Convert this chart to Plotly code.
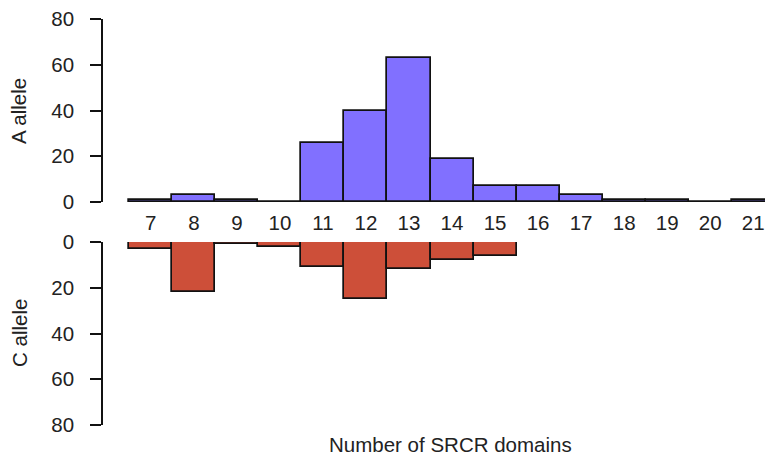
import plotly.graph_objects as go
from plotly.subplots import make_subplots

domains = [7, 8, 9, 10, 11, 12, 13, 14, 15, 16, 17, 18, 19, 20, 21]
a_allele = [1, 3, 1, 0, 26, 40, 63, 19, 7, 7, 3, 1, 1, 0, 1]
c_domains = [7, 8, 9, 10, 11, 12, 13, 14, 15]
c_allele = [3, 22, 1, 2, 11, 25, 12, 8, 6]
y_ticks = [0, 20, 40, 60, 80]

W, H = 765, 456
L, R = 103, 0
T = 19
B = H - 425
px_per_unit = 43.03
x0 = 6.5 - (129.3 - 103) / px_per_unit
pw = W - L - R
x_end = x0 + pw / px_per_unit
ph = H - T - B
top_lo = (425 - 202) / ph
bot_hi = (425 - 242) / ph

FONT = "Liberation Sans, Arial, sans-serif"
TXT = "#222222"
FS = 20.5

fig = make_subplots(rows=2, cols=1, shared_xaxes=False, vertical_spacing=0)

fig.add_trace(go.Bar(x=domains, y=a_allele, width=1,
                     marker=dict(color="#8170FF", line=dict(color="#111111", width=1.7)),
                     showlegend=False), row=1, col=1)
fig.add_trace(go.Bar(x=c_domains, y=c_allele, width=1,
                     marker=dict(color="#CD4F39", line=dict(color="#111111", width=1.7)),
                     showlegend=False), row=2, col=1)

yax = dict(range=[0, 80], tickvals=y_ticks,
           showgrid=False, zeroline=False, showline=True,
           linecolor="#111111", linewidth=1.7, ticks="outside",
           ticklen=11, tickwidth=1.7, tickcolor="#111111",
           tickfont=dict(size=FS, color=TXT, family=FONT),
           ticklabelstandoff=12, ticklabeloverflow="allow")

fig.update_xaxes(range=[x0, x_end], showgrid=False, zeroline=False, showline=False)
fig.update_layout(
    xaxis=dict(domain=[0, 1], tickmode="array", tickvals=domains,
               ticktext=[str(d) for d in domains], ticks="",
               tickfont=dict(size=FS, color=TXT, family=FONT),
               ticklabelstandoff=6, ticklabeloverflow="allow"),
    xaxis2=dict(domain=[0, 1], showticklabels=False, ticks=""),
    yaxis=dict(yax, domain=[top_lo, 1]),
    yaxis2=dict(yax, domain=[0, bot_hi], range=[80, 0]),
    width=W, height=H,
    margin=dict(l=L, r=R, t=T, b=B),
    plot_bgcolor="white", paper_bgcolor="white",
    bargap=0,
    font=dict(family=FONT, color=TXT),
)

def px_x(page_x):
    return (page_x - L) / pw

def px_y(page_y):
    return (H - B - page_y) / ph

fig.add_annotation(text="Number of SRCR domains", xref="paper", yref="paper",
                   x=px_x(451), y=px_y(444),
                   xanchor="center", yanchor="middle", showarrow=False,
                   font=dict(size=FS, color=TXT, family=FONT))
fig.add_annotation(text="A allele", xref="paper", yref="paper",
                   x=px_x(19), y=px_y(111), textangle=-90,
                   xanchor="center", yanchor="middle", showarrow=False,
                   font=dict(size=FS, color=TXT, family=FONT))
fig.add_annotation(text="C allele", xref="paper", yref="paper",
                   x=px_x(19), y=px_y(333), textangle=-90,
                   xanchor="center", yanchor="middle", showarrow=False,
                   font=dict(size=FS, color=TXT, family=FONT))

fig.write_html("out.html",
               config={"displayModeBar": False},
               post_script="document.body.style.margin='0';document.body.style.overflow='hidden';")
